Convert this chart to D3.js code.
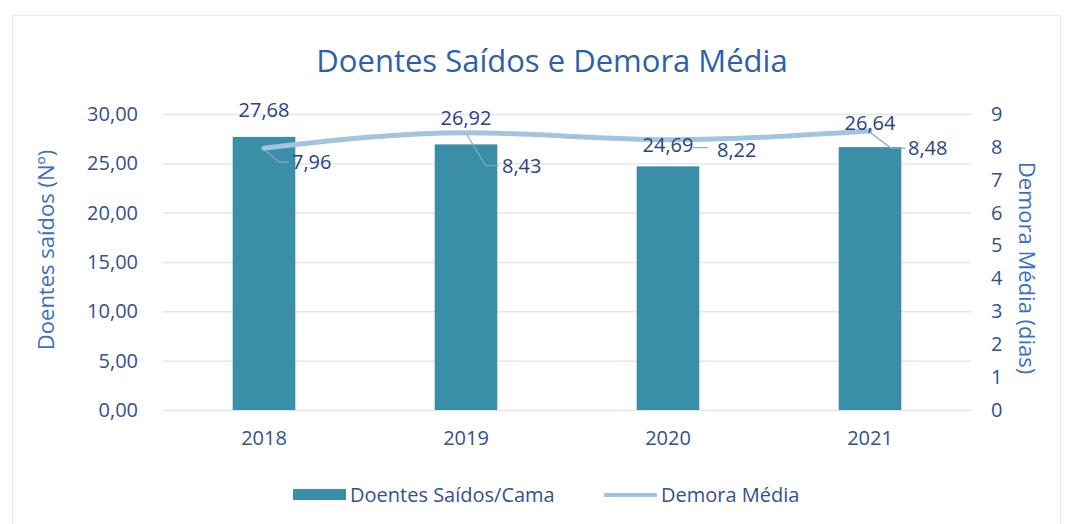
<!DOCTYPE html>
<html>
<head>
<meta charset="utf-8">
<script src="https://cdn.jsdelivr.net/npm/d3@7"></script>
<style>
  html, body { margin: 0; padding: 0; background: #ffffff; }
  svg { display: block; }
  svg text { font-family: "Open Sans", "Noto Sans", sans-serif; }
</style>
</head>
<body>
<svg id="chart" width="1066" height="524"></svg>
<script>
// ---- data ----
const categories = ["2018", "2019", "2020", "2021"];
const doentesSaidos = [27.68, 26.92, 24.69, 26.64];
const demoraMedia = [7.96, 8.43, 8.22, 8.48];
const leftTicks = [0, 5, 10, 15, 20, 25, 30];
const rightTicks = [0, 1, 2, 3, 4, 5, 6, 7, 8, 9];
const seriesNames = ["Doentes Saídos/Cama", "Demora Média"];
const titleText = "Doentes Saídos e Demora Média";
const leftTitle = "Doentes saídos  (Nº)";
const rightTitle = "Demora Média (dias)";

// ---- style ----
const W = 1066, H = 524;
const plot = { left: 163, right: 971, top: 114, bottom: 410 };
const barColor = "#3a8ea8";
const lineColor = "#a3c4de";
const gridColor = "#dfe7ef";
const tickColor = "#34508f";
const labelColor = "#2b4283";
const titleColor = "#2f5faa";
const axisTitleColor = "#3b6fc2";
const leaderColor = "#8aa8c6";
const FONT = '"Open Sans", "Noto Sans", sans-serif';
// label placement tweaks (pixels), mimicking manual label placement
const barLabelDy = [-20, -19, -14, -17];
const lineLabelOff = [[28, 21], [36, 40], [49, 17], [38, 24]];

const fmt = v => d3.format(".2f")(v).replace(".", ",");

const svg = d3.select("#chart");

// card border
svg.append("rect").attr("x", 12.5).attr("y", 15.5).attr("width", 1048).attr("height", 520)
  .attr("fill", "#fff").attr("stroke", "#e6ebf1").attr("stroke-width", 1);

const x = d3.scaleBand().domain(categories).range([plot.left, plot.right]).paddingInner(0.69).paddingOuter(0.345);
const yL = d3.scaleLinear().domain([0, 30]).range([plot.bottom, plot.top]);
const yR = d3.scaleLinear().domain([0, 9]).range([plot.bottom, plot.top]);
const xc = c => x(c) + x.bandwidth() / 2;

// gridlines
svg.append("g").selectAll("line").data(leftTicks).join("line")
  .attr("x1", plot.left).attr("x2", plot.right)
  .attr("y1", d => yL(d) + 0.5).attr("y2", d => yL(d) + 0.5)
  .attr("stroke", gridColor).attr("stroke-width", 1.5);

// left axis
const axL = d3.axisLeft(yL).tickValues(leftTicks).tickFormat(fmt).tickSize(0).tickPadding(25);
const gL = svg.append("g").attr("transform", `translate(${plot.left},0)`).call(axL)
  .attr("font-family", FONT).attr("font-size", 20);
gL.select(".domain").remove();
gL.selectAll("text").attr("fill", tickColor);

// right axis
const axR = d3.axisRight(yR).tickValues(rightTicks).tickFormat(d3.format("d")).tickSize(0).tickPadding(20);
const gR = svg.append("g").attr("transform", `translate(${plot.right},0)`).call(axR)
  .attr("font-family", FONT).attr("font-size", 20);
gR.select(".domain").remove();
gR.selectAll("text").attr("fill", tickColor);

// x axis
const axX = d3.axisBottom(x).tickSize(0).tickPadding(21);
const gX = svg.append("g").attr("transform", `translate(0,${plot.bottom})`).call(axX)
  .attr("font-family", FONT).attr("font-size", 20);
gX.select(".domain").remove();
gX.selectAll("text").attr("fill", tickColor);

// bars
svg.append("g").selectAll("rect").data(doentesSaidos).join("rect")
  .attr("x", (d, i) => x(categories[i]))
  .attr("width", x.bandwidth())
  .attr("y", d => yL(d))
  .attr("height", d => yL(0) - yL(d))
  .attr("fill", barColor);

// line
const line = d3.line().x((d, i) => xc(categories[i])).y(d => yR(d)).curve(d3.curveMonotoneX);
svg.append("path").datum(demoraMedia).attr("d", line)
  .attr("fill", "none").attr("stroke", lineColor).attr("stroke-width", 5).attr("stroke-linecap", "round");

// bar labels
svg.append("g").selectAll("text").data(doentesSaidos).join("text")
  .attr("x", (d, i) => xc(categories[i]))
  .attr("y", (d, i) => yL(d) + barLabelDy[i])
  .attr("text-anchor", "middle").attr("fill", labelColor).style("font-size", "20px")
  .text(d => fmt(d));

// line labels with leader lines
const gLab = svg.append("g");
demoraMedia.forEach((d, i) => {
  const px = xc(categories[i]), py = yR(d);
  const tx = px + lineLabelOff[i][0], ty = py + lineLabelOff[i][1];
  const midY = ty - 7;
  let pts;
  if (i === 2) pts = [[tx - 24, midY - 2], [tx - 9, midY - 2]];
  else pts = [[px + 1, py + 2], [px + (tx - px) * 0.55, midY], [tx - 3, midY]];
  gLab.append("path").attr("d", d3.line()(pts))
    .attr("fill", "none").attr("stroke", leaderColor).attr("stroke-width", 1.2);
  gLab.append("text").attr("x", tx).attr("y", ty)
    .attr("fill", labelColor).style("font-size", "20px").text(fmt(d));
});

// title
svg.append("text").attr("x", 552).attr("y", 72).attr("text-anchor", "middle")
  .attr("fill", titleColor).style("font-size", "31px").text(titleText);

// axis titles
svg.append("text").attr("transform", `translate(54,250) rotate(-90)`).attr("text-anchor", "middle")
  .attr("fill", axisTitleColor).style("font-size", "22px").text(leftTitle);
svg.append("text").attr("transform", `translate(1019,268) rotate(90)`).attr("text-anchor", "middle")
  .attr("fill", axisTitleColor).style("font-size", "22px").text(rightTitle);

// legend
const lg = svg.append("g");
lg.append("rect").attr("x", 293).attr("y", 489).attr("width", 53).attr("height", 11).attr("fill", barColor);
lg.append("text").attr("x", 350).attr("y", 502).attr("fill", tickColor).style("font-size", "20px").text(seriesNames[0]);
lg.append("line").attr("x1", 604).attr("x2", 657).attr("y1", 495).attr("y2", 495)
  .attr("stroke", lineColor).attr("stroke-width", 4);
lg.append("text").attr("x", 661).attr("y", 502).attr("fill", tickColor).style("font-size", "20px").text(seriesNames[1]);
</script>
</body>
</html>
